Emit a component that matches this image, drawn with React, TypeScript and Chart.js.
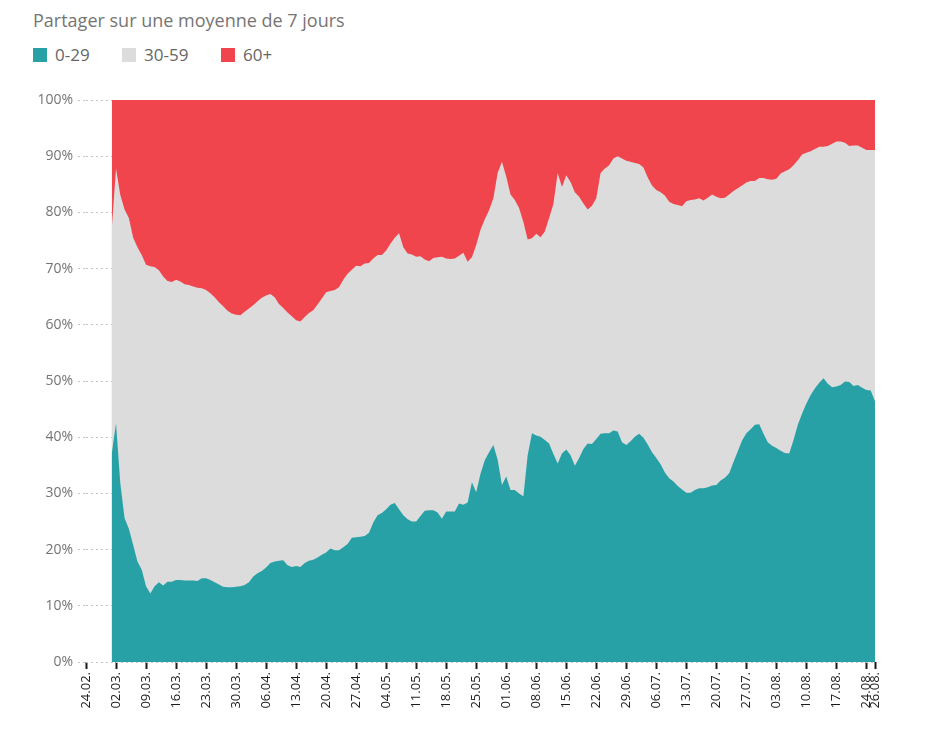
import React, { useEffect, useRef } from 'react';
import { Chart, registerables } from 'chart.js';

Chart.register(...registerables);

// Axis ticks: day offset from 24.02. and their labels
const tickDays = [0, 7, 14, 21, 28, 35, 42, 49, 56, 63, 70, 77, 84, 91, 98, 105, 112, 119, 126, 133, 140, 147, 154, 161, 168, 175, 182, 184];
const tickLabels = ['24.02.', '02.03.', '09.03.', '16.03.', '23.03.', '30.03.', '06.04.', '13.04.', '20.04.', '27.04.', '04.05.', '11.05.', '18.05.', '25.05.', '01.06.', '08.06.', '15.06.', '22.06.', '29.06.', '06.07.', '13.07.', '20.07.', '27.07.', '03.08.', '10.08.', '17.08.', '24.08.', '26.08.'];
// First data point is 01.03. (6 days after 24.02.), one value per day up to 26.08.
const firstDataDay = 6;

const seriesLabels = ['0-29', '30-59', '60+'];
const seriesColors = ['#28a1a6', '#dcdcdc', '#f0454d'];

// Share (%) of each age group, 7-day average
const age0to29 = [
  37.0, 42.5, 31.8, 25.6, 23.7, 20.8, 17.9, 16.4, 13.5, 12.2,
  13.5, 14.2, 13.6, 14.3, 14.3, 14.6, 14.6, 14.5, 14.5, 14.5,
  14.4, 14.9, 14.9, 14.6, 14.2, 13.8, 13.4, 13.3, 13.3, 13.4,
  13.5, 13.7, 14.2, 15.2, 15.8, 16.2, 16.8, 17.6, 17.9, 18.0,
  18.1, 17.2, 16.9, 17.1, 16.9, 17.6, 18.0, 18.2, 18.6, 19.1,
  19.5, 20.2, 19.9, 19.9, 20.4, 21.0, 22.1, 22.2, 22.3, 22.4,
  23.0, 24.8, 26.1, 26.5, 27.2, 28.0, 28.3, 27.2, 26.1, 25.4,
  25.0, 25.0, 26.0, 26.9, 27.0, 27.0, 26.6, 25.5, 26.8, 26.8,
  26.8, 28.2, 28.0, 28.4, 32.0, 30.2, 33.5, 35.9, 37.3, 38.6,
  36.0, 31.5, 33.0, 30.6, 30.6, 30.0, 29.5, 36.8, 40.7, 40.3,
  40.1, 39.5, 38.9, 37.0, 35.3, 37.1, 37.8, 36.8, 34.9, 36.3,
  37.9, 38.9, 38.8, 39.7, 40.6, 40.7, 40.7, 41.2, 41.0, 39.1,
  38.6, 39.3, 40.1, 40.6, 39.9, 38.7, 37.3, 36.3, 35.2, 33.7,
  32.7, 32.1, 31.3, 30.7, 30.1, 30.1, 30.6, 30.9, 30.9, 31.1,
  31.4, 31.5, 32.3, 32.8, 33.6, 35.6, 37.5, 39.4, 40.7, 41.4,
  42.2, 42.3, 40.6, 39.1, 38.5, 38.1, 37.6, 37.2, 37.1, 39.5,
  42.2, 44.2, 46.0, 47.5, 48.7, 49.7, 50.5, 49.5, 48.9, 49.0,
  49.3, 49.9, 49.8, 49.1, 49.3, 48.8, 48.4, 48.3, 46.4,
];
const age30to59 = [
  40.0, 45.3, 51.3, 54.9, 55.3, 54.7, 55.9, 56.0, 57.2, 58.2,
  56.8, 55.5, 55.0, 53.5, 53.3, 53.4, 53.1, 52.7, 52.6, 52.3,
  52.2, 51.6, 51.3, 51.0, 50.7, 50.2, 49.9, 49.2, 48.7, 48.4,
  48.2, 48.6, 48.7, 48.3, 48.4, 48.6, 48.4, 47.9, 47.0, 45.7,
  44.9, 45.0, 44.6, 43.7, 43.7, 43.8, 44.1, 44.4, 45.0, 45.6,
  46.3, 45.8, 46.3, 46.8, 47.6, 48.1, 47.7, 48.3, 48.1, 48.5,
  48.0, 47.0, 46.3, 45.9, 46.0, 46.4, 47.2, 49.1, 47.7, 47.3,
  47.5, 47.1, 46.2, 44.7, 44.3, 44.9, 45.4, 46.6, 45.0, 44.9,
  45.0, 44.1, 44.8, 42.8, 40.0, 44.0, 43.4, 42.9, 43.1, 43.9,
  51.0, 57.5, 53.4, 52.6, 51.6, 50.8, 48.8, 38.4, 34.7, 35.9,
  35.5, 37.1, 40.1, 44.5, 51.7, 47.4, 48.8, 48.6, 48.7, 46.5,
  43.7, 41.6, 42.4, 42.8, 46.4, 47.1, 47.7, 48.4, 49.0, 50.5,
  50.6, 49.7, 48.7, 48.0, 48.1, 47.5, 47.5, 47.7, 48.4, 49.3,
  49.2, 49.4, 50.0, 50.4, 51.9, 52.1, 51.7, 51.6, 51.2, 51.5,
  51.8, 51.3, 50.2, 49.8, 49.6, 48.2, 46.8, 45.4, 44.6, 44.2,
  43.4, 43.8, 45.5, 46.8, 47.3, 47.9, 49.3, 50.1, 50.6, 48.9,
  47.1, 46.1, 44.6, 43.4, 42.6, 42.0, 41.2, 42.3, 43.3, 43.6,
  43.3, 42.5, 42.0, 42.8, 42.6, 42.7, 42.7, 42.8, 44.7,
];
const age60plus = [
  23.0, 12.2, 16.9, 19.5, 21.0, 24.5, 26.2, 27.6, 29.3, 29.6,
  29.7, 30.3, 31.4, 32.2, 32.4, 32.0, 32.3, 32.8, 32.9, 33.2,
  33.4, 33.5, 33.8, 34.4, 35.1, 36.0, 36.7, 37.5, 38.0, 38.2,
  38.3, 37.7, 37.1, 36.5, 35.8, 35.2, 34.8, 34.5, 35.1, 36.3,
  37.0, 37.8, 38.5, 39.2, 39.4, 38.6, 37.9, 37.4, 36.4, 35.3,
  34.2, 34.0, 33.8, 33.3, 32.0, 30.9, 30.2, 29.5, 29.6, 29.1,
  29.0, 28.2, 27.6, 27.6, 26.8, 25.6, 24.5, 23.7, 26.2, 27.3,
  27.5, 27.9, 27.8, 28.4, 28.7, 28.1, 28.0, 27.9, 28.2, 28.3,
  28.2, 27.7, 27.2, 28.8, 28.0, 25.8, 23.1, 21.2, 19.6, 17.5,
  13.0, 11.0, 13.6, 16.8, 17.8, 19.2, 21.7, 24.8, 24.6, 23.8,
  24.4, 23.4, 21.0, 18.5, 13.0, 15.5, 13.4, 14.6, 16.4, 17.2,
  18.4, 19.5, 18.8, 17.5, 13.0, 12.2, 11.6, 10.4, 10.0, 10.4,
  10.8, 11.0, 11.2, 11.4, 12.0, 13.8, 15.2, 16.0, 16.4, 17.0,
  18.1, 18.5, 18.7, 18.9, 18.0, 17.8, 17.7, 17.5, 17.9, 17.4,
  16.8, 17.2, 17.5, 17.4, 16.8, 16.2, 15.7, 15.2, 14.7, 14.4,
  14.4, 13.9, 13.9, 14.1, 14.2, 14.0, 13.1, 12.7, 12.3, 11.6,
  10.7, 9.7, 9.4, 9.1, 8.7, 8.3, 8.3, 8.2, 7.8, 7.4,
  7.4, 7.6, 8.2, 8.1, 8.1, 8.5, 8.9, 8.9, 8.9,
];

const titleText = 'Partager sur une moyenne de 7 jours';
const FONT = '"Open Sans", "Noto Sans", sans-serif';

export default function App() {
  const canvasRef = useRef<HTMLCanvasElement | null>(null);

  useEffect(() => {
    const canvas = canvasRef.current;
    if (!canvas) return;
    const seriesValues = [age0to29, age30to59, age60plus];
    const chart = new Chart(canvas, {
      type: 'line',
      data: {
        datasets: seriesValues.map((vals, k) => ({
          label: seriesLabels[k],
          data: vals.map((v, i) => ({ x: firstDataDay + i, y: v })),
          backgroundColor: seriesColors[k],
          borderColor: 'rgba(0,0,0,0)',
          borderWidth: 0,
          pointRadius: 0,
          pointHoverRadius: 0,
          tension: 0,
          fill: 'origin',
        })),
      },
      options: {
        responsive: false,
        animation: false,
        events: [],
        layout: { padding: { left: 0, right: 65, top: 100, bottom: 0 } },
        plugins: {
          legend: { display: false },
          title: { display: false },
          tooltip: { enabled: false },
        },
        scales: {
          x: {
            type: 'linear',
            min: 0,
            max: 184,
            afterBuildTicks: (scale: any) => {
              scale.ticks = tickDays.map((d) => ({ value: d }));
            },
            afterFit: (scale: any) => {
              scale.height = 68;
            },
            border: { display: false },
            grid: {
              drawOnChartArea: false,
              drawTicks: true,
              tickLength: 7,
              tickColor: '#1a1a1a',
              tickWidth: 2,
            },
            ticks: {
              autoSkip: false,
              maxRotation: 90,
              minRotation: 90,
              padding: 3,
              color: '#1a1a1a',
              font: { family: FONT, size: 13 },
              callback: (value: any) => {
                const idx = tickDays.indexOf(Number(value));
                return idx >= 0 ? tickLabels[idx] : '';
              },
            },
          },
          y: {
            stacked: true,
            min: 0,
            max: 100,
            afterFit: (scale: any) => {
              scale.width = 86;
            },
            border: { display: false, dash: [2, 3] },
            grid: {
              color: '#c4c4c4',
              lineWidth: 1,
              drawTicks: true,
              tickLength: 8,
              tickColor: '#c4c4c4',
              tickBorderDash: [2, 3],
            },
            ticks: {
              stepSize: 10,
              padding: 5,
              color: '#747474',
              font: { family: FONT, size: 14 },
              callback: (value: any) => value + '%',
            },
          },
        },
      },
    } as any);
    return () => chart.destroy();
  }, []);

  const legendX = [33, 122, 221];

  return (
    <div style={{ position: 'absolute', left: 0, top: 0, width: 940, height: 730, background: '#ffffff', fontFamily: FONT }}>
      <div style={{ position: 'absolute', left: 33, top: 8, fontSize: 18, lineHeight: '24px', color: '#757575', whiteSpace: 'nowrap' }}>
        {titleText}
      </div>
      {seriesLabels.map((lab, k) => (
        <div
          key={lab}
          style={{ position: 'absolute', left: legendX[k], top: 45, height: 20, display: 'flex', alignItems: 'center', fontSize: 17, lineHeight: '20px', color: '#666666', whiteSpace: 'nowrap' }}
        >
          <span style={{ display: 'inline-block', width: 14, height: 14, background: seriesColors[k], marginRight: 8 }} />
          <span>{lab}</span>
        </div>
      ))}
      <canvas ref={canvasRef} width={940} height={730} style={{ position: 'absolute', left: 0, top: 0 }} />
    </div>
  );
}
